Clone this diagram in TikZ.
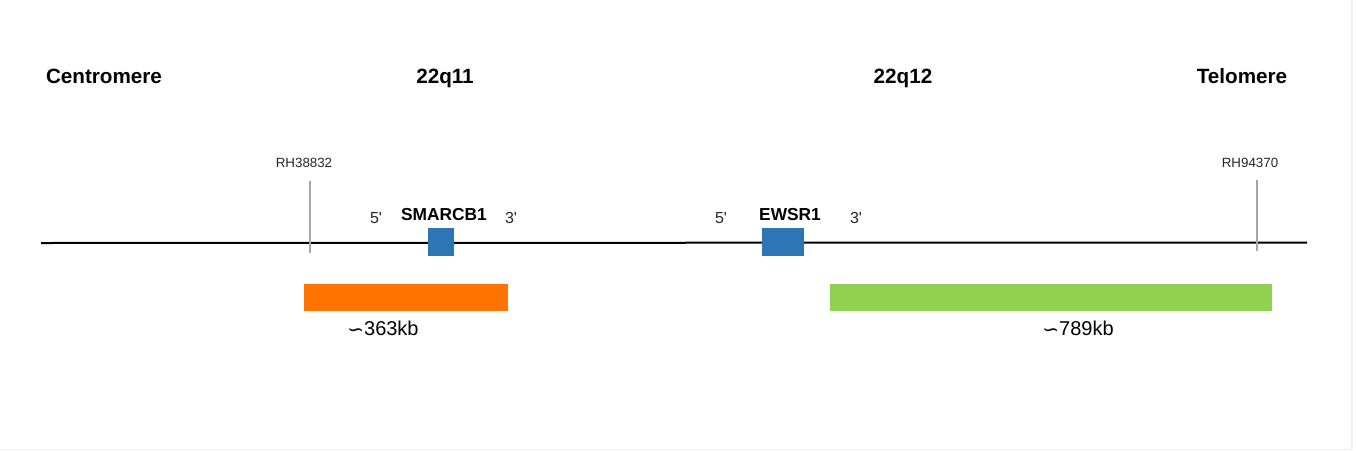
\documentclass[tikz,border=0pt]{standalone}
\usepackage{fontspec}
\setmainfont{Liberation Sans}
\newfontfamily\symfont{DejaVu Sans}
\definecolor{geneblue}{HTML}{2E75B6}
\definecolor{probeorange}{HTML}{FF7300}
\definecolor{probegreen}{HTML}{92D050}
\definecolor{tickgray}{HTML}{A6A6A6}
\begin{document}
\begin{tikzpicture}[x=0.75pt,y=-0.75pt,
  header/.style={font=\fontsize{15.5}{18}\selectfont\bfseries, inner sep=0pt, anchor=base},
  marker/.style={font=\fontsize{10}{12}\selectfont, text=black!85, inner sep=0pt, anchor=base},
  genelabel/.style={font=\fontsize{13}{15}\selectfont\bfseries, inner sep=0pt, anchor=base},
  endlabel/.style={font=\fontsize{12}{14}\selectfont, text=black!85, inner sep=0pt, anchor=base},
  sizelabel/.style={font=\fontsize{15}{18}\selectfont, inner sep=0pt, anchor=base},
  genebox/.style={fill=geneblue, draw=none},
  ticky/.style={draw=tickgray, line width=1.1pt}]
\useasboundingbox (0,0) rectangle (1356,450);
\fill[white] (0,0) rectangle (1356,450);
\draw[black!5, line width=0.8pt] (0,449.5) -- (1352,449.5) -- (1352,0);
% headers
\node[header] (cen) at (104,83) {Centromere};
\node[header] (q11) at (445,83) {22q11};
\node[header] (q12) at (903,83) {22q12};
\node[header] (tel) at (1242,83) {Telomere};
% chromosome line
\coordinate (lineL) at (41,243);
\coordinate (lineR) at (1307,242.5);
\draw[black, line width=1.5pt] (lineL) -- (lineR);
% markers
\node[marker] (rh1) at (304,167) {RH38832};
\coordinate (t1a) at (310,181); \coordinate (t1b) at (310,253);
\draw[ticky] (t1a) -- (t1b);
\node[marker] (rh2) at (1250,167) {RH94370};
\coordinate (t2a) at (1257,180); \coordinate (t2b) at (1257,251);
\draw[ticky] (t2a) -- (t2b);
% genes
\fill[genebox] (428,228) rectangle (454,256);
\node[genelabel] (smarcb1) at (444,220) {SMARCB1};
\node[endlabel] (s5) at (376,223) {5\textquotesingle};
\node[endlabel] (s3) at (511,223) {3\textquotesingle};
\fill[genebox] (762,228) rectangle (804,256);
\node[genelabel] (ewsr1) at (790,220) {EWSR1};
\node[endlabel] (e5) at (721,223) {5\textquotesingle};
\node[endlabel] (e3) at (856,223) {3\textquotesingle};
% probes
\fill[probeorange] (304,284) rectangle (508,311);
\fill[probegreen] (830,284) rectangle (1272,311);
\node[sizelabel] (sz1) at (383,335) {{\symfont\raisebox{-0.15ex}{∽}}363kb};
\node[sizelabel] (sz2) at (1078,335) {{\symfont\raisebox{-0.15ex}{∽}}789kb};
\end{tikzpicture}
\end{document}
